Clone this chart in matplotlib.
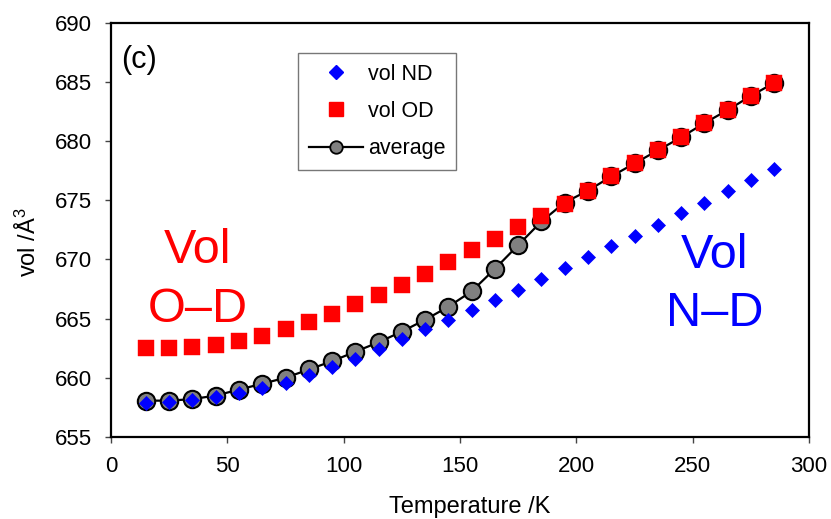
import matplotlib
matplotlib.use("Agg")
import matplotlib.pyplot as plt
from matplotlib.lines import Line2D

plt.rcParams['font.family'] = ['Liberation Sans', 'DejaVu Sans']
plt.rcParams['mathtext.fontset'] = 'custom'
plt.rcParams['mathtext.rm'] = 'Liberation Sans'
plt.rcParams['mathtext.it'] = 'Liberation Sans'
plt.rcParams['mathtext.default'] = 'regular'

# Temperature points (K)
temperature = [15, 25, 35, 45, 55, 65, 75, 85, 95, 105, 115, 125, 135, 145,
               155, 165, 175, 185, 195, 205, 215, 225, 235, 245, 255, 265, 275, 285]

# Cell volume from the N-D bond refinement (A^3)
vol_nd = [657.85, 657.95, 658.1, 658.4, 658.7, 659.1, 659.6, 660.2, 660.9, 661.6,
          662.4, 663.3, 664.1, 664.9, 665.7, 666.6, 667.4, 668.3, 669.3, 670.2,
          671.1, 672.0, 672.9, 673.9, 674.8, 675.8, 676.7, 677.6]

# Cell volume from the O-D bond refinement (A^3)
vol_od = [662.55, 662.55, 662.6, 662.8, 663.1, 663.5, 664.1, 664.7, 665.4, 666.2,
          667.0, 667.8, 668.8, 669.8, 670.8, 671.7, 672.7, 673.7, 674.7, 675.8,
          677.0, 678.1, 679.2, 680.3, 681.5, 682.6, 683.8, 684.9]

# Weighted average volume (A^3)
vol_avg = [658.07, 658.07, 658.2, 658.5, 659.0, 659.5, 660.0, 660.7, 661.4, 662.2,
           663.0, 663.9, 664.9, 666.0, 667.3, 669.2, 671.2, 673.2, 674.8, 675.8,
           677.0, 678.1, 679.2, 680.3, 681.5, 682.6, 683.8, 684.9]

x_ticks = [0, 50, 100, 150, 200, 250, 300]
y_ticks = [655, 660, 665, 670, 675, 680, 685, 690]

fig = plt.figure(figsize=(8.31, 5.19), dpi=100)
ax = fig.add_axes([111 / 831, 1 - 437 / 519, 698 / 831, 414.5 / 519])

ax.plot(temperature, vol_avg, color='black', lw=1.6, marker='o', ms=12.5,
        mfc='#808080', mec='black', mew=1.5, zorder=2, label='average')
ax.plot(temperature, vol_nd, ls='none', marker='D', ms=7.6, mfc='#0000ff',
        mec='#0000ff', mew=0.5, zorder=3, label='vol ND')
ax.plot(temperature, vol_od, ls='none', marker='s', ms=11, mfc='#ff0000',
        mec='#ff0000', mew=0.3, zorder=4, label='vol OD')

ax.set_xlim(0, 300)
ax.set_ylim(655, 690)
ax.set_xticks(x_ticks)
ax.set_yticks(y_ticks)
ax.tick_params(direction='out', length=4.5, width=1.0, labelsize=16,
               pad=9, color='#444444')
for s in ax.spines.values():
    s.set_linewidth(1.6)

ax.set_xlabel('Temperature /K', fontsize=17)
ax.xaxis.set_label_coords(0.514, -0.142)
ax.set_ylabel('vol /Å$^{3}$', fontsize=17)
ax.yaxis.set_label_coords(-0.1, 0.47)

ax.text(0.0145, 0.890, '(c)', transform=ax.transAxes, fontsize=22,
        va='baseline', ha='left')

ax.text(37.2, 669.7, 'Vol', color='#ff0000', fontsize=35, ha='center', va='baseline')
ax.text(37.2, 664.75, 'O\u2013D', color='#ff0000', fontsize=35, ha='center', va='baseline')
ax.text(259.4, 669.3, 'Vol', color='#0000ff', fontsize=35, ha='center', va='baseline')
ax.text(259.4, 664.4, 'N\u2013D', color='#0000ff', fontsize=35, ha='center', va='baseline')

handles = [
    Line2D([], [], ls='none', marker='D', ms=7, mfc='#0000ff', mec='#0000ff'),
    Line2D([], [], ls='none', marker='s', ms=9.5, mfc='#ff0000', mec='#ff0000'),
    Line2D([], [], color='black', lw=1.6, marker='o', ms=9, mfc='#808080',
           mec='black', mew=1.3),
]
leg = ax.legend(handles, ['vol ND', 'vol OD', 'average'], loc='upper left',
                bbox_to_anchor=((298 - 111) / 698, (437 - 53) / 414.5),
                borderaxespad=0, fontsize=15.5, frameon=True, fancybox=False,
                handlelength=2.5, handletextpad=0.25, labelspacing=0.75,
                borderpad=0.5)
leg.get_frame().set_edgecolor('#555555')
leg.get_frame().set_linewidth(1.0)

fig.savefig('out.png', dpi=100)
